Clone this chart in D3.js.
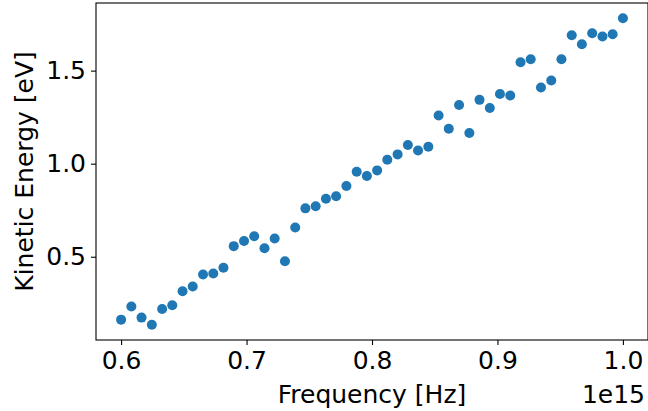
<!DOCTYPE html>
<html>
<head>
<meta charset="utf-8">
<script src="https://cdn.jsdelivr.net/npm/d3@7"></script>
<style>
  body { margin: 0; background: #fff; }
  text { font-family: "DejaVu Sans", sans-serif; }
</style>
</head>
<body>
<div id="chart"></div>
<script>
// frequency in units of 1e15 Hz
let frequency = [
  0.6000, 0.6082, 0.6163, 0.6245, 0.6327, 0.6408, 0.6490, 0.6571, 0.6653, 0.6735,
  0.6816, 0.6898, 0.6980, 0.7061, 0.7143, 0.7224, 0.7306, 0.7388, 0.7469, 0.7551,
  0.7633, 0.7714, 0.7796, 0.7878, 0.7959, 0.8041, 0.8122, 0.8204, 0.8286, 0.8367,
  0.8449, 0.8531, 0.8612, 0.8694, 0.8776, 0.8857, 0.8939, 0.9020, 0.9102, 0.9184,
  0.9265, 0.9347, 0.9429, 0.9510, 0.9592, 0.9673, 0.9755, 0.9837, 0.9918, 1.0000
]
let energy = [
  0.162, 0.233, 0.173, 0.135, 0.219, 0.239, 0.315, 0.340, 0.405, 0.410,
  0.441, 0.557, 0.585, 0.610, 0.546, 0.598, 0.476, 0.657, 0.760, 0.771,
  0.812, 0.825, 0.880, 0.957, 0.934, 0.964, 1.021, 1.050, 1.100, 1.071,
  1.091, 1.259, 1.188, 1.315, 1.165, 1.343, 1.299, 1.374, 1.366, 1.545,
  1.561, 1.409, 1.447, 1.561, 1.690, 1.642, 1.701, 1.683, 1.695, 1.781
]
let xTicks = [0.6, 0.7, 0.8, 0.9, 1.0]
let yTicks = [0.5, 1.0, 1.5]

const W = 648, H = 411
const m = {left: 96, right: 0, top: 3, bottom: 71}

// matplotlib style 5% padding
const pad = ext => {
  let d = (ext[1] - ext[0]) * 0.05
  return [ext[0] - d, ext[1] + d]
}

let x = d3.scaleLinear().domain(pad(d3.extent(frequency))).range([m.left, W - m.right])
let y = d3.scaleLinear().domain(pad(d3.extent(energy))).range([H - m.bottom, m.top])

let svg = d3.select('#chart').append('svg')
  .attr('width', W)
  .attr('height', H)

svg.append('g')
  .attr('transform', `translate(0,${H - m.bottom})`)
  .call(d3.axisBottom(x).tickValues(xTicks).tickFormat(d3.format('.1f')).tickSizeOuter(0).tickSize(5).tickPadding(6))
  .call(g => g.select('.domain').remove())
  .call(g => g.selectAll('text').attr('font-size', 25).attr('font-family', 'DejaVu Sans').attr('fill', '#000'))
  .call(g => g.selectAll('line').attr('stroke', '#000').attr('stroke-width', 1.1))

svg.append('g')
  .attr('transform', `translate(${m.left},0)`)
  .call(d3.axisLeft(y).tickValues(yTicks).tickFormat(d3.format('.1f')).tickSizeOuter(0).tickSize(5).tickPadding(5))
  .call(g => g.select('.domain').remove())
  .call(g => g.selectAll('text').attr('font-size', 25).attr('font-family', 'DejaVu Sans').attr('fill', '#000'))
  .call(g => g.selectAll('line').attr('stroke', '#000').attr('stroke-width', 1.1))

// frame
svg.append('rect')
  .attr('x', m.left)
  .attr('y', m.top)
  .attr('width', W - m.right - m.left)
  .attr('height', H - m.bottom - m.top)
  .attr('fill', 'none')
  .attr('stroke', '#000')
  .attr('stroke-width', 1.1)

svg.append('g').selectAll('circle')
  .data(frequency)
  .enter().append('circle')
  .attr('cx', d => x(d))
  .attr('cy', (d, i) => y(energy[i]))
  .attr('r', 5)
  .attr('fill', '#1f77b4')

svg.append('text')
  .attr('x', (m.left + W - m.right) / 2)
  .attr('y', 403)
  .attr('text-anchor', 'middle')
  .attr('font-size', 25)
  .text('Frequency [Hz]')

svg.append('text')
  .attr('x', W - m.right - 3)
  .attr('y', 403)
  .attr('text-anchor', 'end')
  .attr('font-size', 25)
  .text('1e15')

svg.append('text')
  .attr('transform', `translate(33,${(m.top + H - m.bottom) / 2}) rotate(-90)`)
  .attr('text-anchor', 'middle')
  .attr('font-size', 25)
  .text('Kinetic Energy [eV]')
</script>
</body>
</html>
